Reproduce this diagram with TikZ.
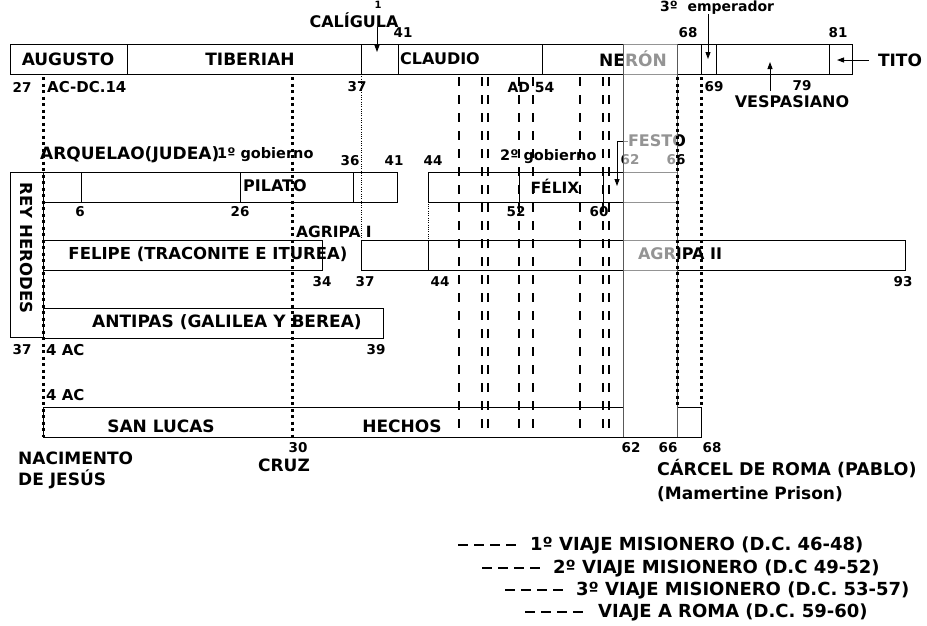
\documentclass[tikz,border=0pt]{standalone}
\usepackage{fontspec}
\setmainfont{DejaVu Sans}
\usetikzlibrary{arrows.meta}
\begin{document}
\begin{tikzpicture}[x=1pt,y=-1pt,
  fs/.style={font=\bfseries\fontsize{#1pt}{#1pt}\selectfont, inner sep=0pt},
  num/.style={fs=13.5},
  box/.style={draw=black, line width=0.9pt},
  heavydot/.style={line width=3pt, dash pattern=on 3pt off 3.5pt},
  thindot/.style={line width=1pt, dash pattern=on 1pt off 1.3pt},
  trip/.style={line width=2.4pt, dash pattern=on 9pt off 9pt},
  legdash/.style={line width=2.2pt, dash pattern=on 10pt off 6pt},
  arr/.style={line width=0.9pt, -{Triangle[length=7pt,width=5pt]}},
]
\useasboundingbox (0,0) rectangle (927,625);

% ---------- boxes ----------
\draw[box] (10,44) rectangle (852,74);
\foreach \xx in {127,361,398,542,677,701,716,829} \draw[box] (\xx,44) -- (\xx,74);

\draw[box] (10,172) rectangle (43,337);
\draw[box] (43,172) rectangle (397,202);
\foreach \xx in {81,240,353} \draw[box] (\xx,172) -- (\xx,202);

\draw[box] (428,172) rectangle (677,202);
\foreach \xx in {519,603} \draw[box] (\xx,172) -- (\xx,202);

\draw[box] (43,240) rectangle (322,270);
\draw[box] (361,240) rectangle (905,270);
\draw[box] (428,240) -- (428,270);

\draw[box] (43,308) rectangle (383,338);

\draw[box] (43,407) rectangle (623,437);
\draw[box] (677,407) rectangle (701,437);

% thin dotted
\draw[thindot] (361,74) -- (361,240);
\draw[thindot] (428,190) -- (428,240);

% ---------- texts ----------
\node[fs=10, anchor=north] (one) at (378,1) {1};
\node[fs=16] (cal) at (354,20) {CALÍGULA};
\node[num] (t41a) at (403,33) {41};
\node[fs=14, anchor=north west] (emp) at (660,1) {3º\ \ emperador};
\node[num] (t68a) at (688,33) {68};
\node[num] (t81) at (838,33) {81};

\node[fs=17] (aug) at (68,59) {AUGUSTO};
\node[fs=17] (tib) at (250,59) {TIBERIAH};
\node[fs=16] (cla) at (440,59) {CLAUDIO};
\node[fs=17] (ner) at (633,59) {NERÓN};
\node[fs=17] (tito) at (900,60) {TITO};

\node[num] (t27) at (22,87) {27};
\node[fs=15, anchor=west] (acdc) at (47,87) {AC-DC.14};
\node[num] (t37a) at (357,87) {37};
\node[fs=14] (ad54) at (531,87) {AD 54};
\node[num] (t69) at (714,87) {69};
\node[num] (t79) at (802,86) {79};
\node[fs=16] (ves) at (792,102) {VESPASIANO};

\node[fs=17, anchor=west] (arq) at (40,155) {ARQUELAO(JUDEA)};
\node[fs=14.5, anchor=west] (gob1) at (217,155) {1º gobierno};
\node[num] (t36) at (350,161) {36};
\node[num] (t41b) at (394,161) {41};
\node[num] (t44a) at (433,161) {44};
\node[fs=14.5, anchor=west] (gob2) at (500,157) {2º gobierno};
\node[fs=16] (festo) at (657,141) {FESTO};
\node[num] (t62a) at (630,160) {62};
\node[num] (t66a) at (676,160) {66};

\node[fs=16, anchor=west] (pil) at (243,186) {PILATO};
\node[fs=15.5] (fel) at (555,186) {FÉLIX};
\node[num] (t6) at (80,212) {6};
\node[num] (t26) at (240,212) {26};
\node[num] (t52) at (516,212) {52};
\node[num] (t60) at (599,212) {60};

\node[fs=15.5, anchor=west] (agr1) at (296,232) {AGRIPA I};
\node[fs=16.5] (felipe) at (208,254) {FELIPE (TRACONITE E ITUREA)};
\node[fs=16] (agr2) at (680,254) {AGRIPA II};
\node[num] (t34) at (322,282) {34};
\node[num] (t37b) at (365,282) {37};
\node[num] (t44b) at (440,282) {44};
\node[num] (t93) at (903,282) {93};

\node[fs=17] (ant) at (227,322) {ANTIPAS (GALILEA Y BEREA)};
\node[fs=16.5, rotate=-90] (rey) at (27,248) {REY HERODES};
\node[num] (t37c) at (22,350) {37};
\node[fs=15, anchor=west] (ac1) at (46,350) {4 AC};
\node[num] (t39) at (376,350) {39};
\node[fs=15, anchor=west] (ac2) at (46,395) {4 AC};

\node[fs=17] (sl) at (161,426) {SAN LUCAS};
\node[fs=17] (hec) at (402,426) {HECHOS};

\node[num] (t30) at (298,448) {30};
\node[fs=17] (cruz) at (284,465) {CRUZ};
\node[fs=17, anchor=west] (nac) at (18,458) {NACIMENTO};
\node[fs=17, anchor=west] (dej) at (18,479) {DE JESÚS};
\node[num] (t62b) at (631,448) {62};
\node[num] (t66b) at (668,448) {66};
\node[num] (t68b) at (712,448) {68};
\node[fs=17.5, anchor=west] (car) at (657,469) {CÁRCEL DE ROMA (PABLO)};
\node[fs=17, anchor=west] (mam) at (657,494) {(Mamertine Prison)};

% ---------- legend ----------
\node[fs=18, anchor=west] (l1) at (530,545) {1º VIAJE MISIONERO (D.C. 46-48)};
\node[fs=18, anchor=west] (l2) at (553,568) {2º VIAJE MISIONERO (D.C 49-52)};
\node[fs=18, anchor=west] (l3) at (576,590) {3º VIAJE MISIONERO (D.C. 53-57)};
\node[fs=18, anchor=west] (l4) at (598,612) {VIAJE A ROMA (D.C. 59-60)};
\draw[legdash] ([xshift=-72pt]l1.west) -- ([xshift=-14pt]l1.west);
\draw[legdash] ([xshift=-71pt]l2.west) -- ([xshift=-13pt]l2.west);
\draw[legdash] ([xshift=-71pt]l3.west) -- ([xshift=-13pt]l3.west);
\draw[legdash] ([xshift=-73pt]l4.west) -- ([xshift=-15pt]l4.west);

% ---------- journey lines ----------
\foreach \xx in {459,482,488,519,533,580,603,609}
  \draw[trip] (\xx,77) -- (\xx,437);

% ---------- arrows ----------
\coordinate (calT) at (377,52);
\coordinate (empT) at (708,59);
\coordinate (vesT) at (770,62);
\coordinate (titoT) at (837,60);
\coordinate (festoT) at (617,186);
\draw[arr] ([yshift=1pt]cal.south -| calT) -- (calT);
\draw[arr] ([yshift=1pt]emp.south -| empT) -- (empT);
\draw[arr] ([yshift=5pt]ves.north -| vesT) -- (vesT);
\draw[arr] ([xshift=-9pt]tito.west) -- (titoT);
\draw[arr] (festo.west) -| (festoT);

% ---------- prison overlay ----------
\fill[white, opacity=0.58] (623,44) rectangle (677,437);
\draw[gray!70!black, line width=1pt] (623,44) -- (623,437);
\draw[gray!70!black, line width=1pt] (677,44) -- (677,437);
\draw[black, line width=1pt] (623,437) -- (677,437);

% ---------- heavy dotted lines ----------
\draw[heavydot] (43,77) -- (43,437);
\draw[heavydot] (292,77) -- (292,437);
\draw[heavydot] (677,77) -- (677,407);
\draw[heavydot] (701,77) -- (701,407);
\end{tikzpicture}
\end{document}
